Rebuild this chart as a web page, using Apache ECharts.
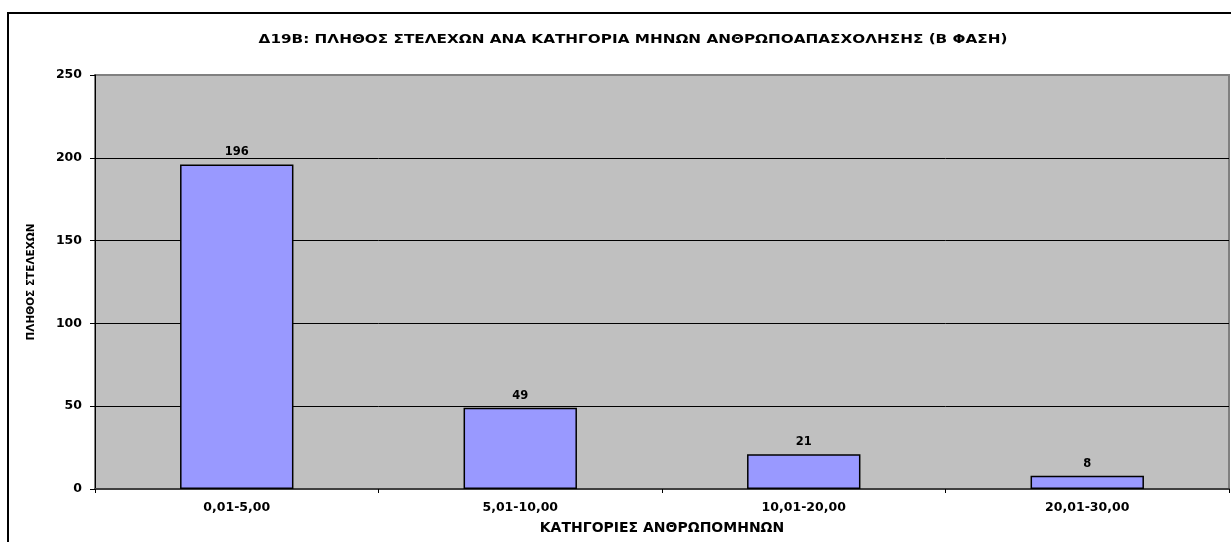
<!DOCTYPE html>
<html>
<head>
<meta charset="utf-8">
<script src="https://cdn.jsdelivr.net/npm/echarts@6/dist/echarts.min.js"></script>
<style>
html,body{margin:0;padding:0;background:#fff;}
#chart{width:1231px;height:542px;}
</style>
</head>
<body>
<div id="chart"></div>
<script>
const titleText = 'Δ19Β: ΠΛΗΘΟΣ ΣΤΕΛΕΧΩΝ ΑΝΑ ΚΑΤΗΓΟΡΙΑ ΜΗΝΩΝ ΑΝΘΡΩΠΟΑΠΑΣΧΟΛΗΣΗΣ (Β ΦΑΣΗ)';
const categories = ['0,01-5,00', '5,01-10,00', '10,01-20,00', '20,01-30,00'];
const values = [196, 49, 21, 8];
const yName = 'ΠΛΗΘΟΣ ΣΤΕΛΕΧΩΝ';
const xName = 'ΚΑΤΗΓΟΡΙΕΣ ΑΝΘΡΩΠΟΜΗΝΩΝ';

const font = '"DejaVu Sans", "Liberation Sans", Arial, sans-serif';
const chart = echarts.init(document.getElementById('chart'), null, {renderer: 'canvas'});
chart.setOption({
  animation: false,
  backgroundColor: '#ffffff',
  textStyle: {fontFamily: font},
  graphic: [{
    type: 'rect',
    shape: {x: 8, y: 13, width: 1400, height: 700},
    style: {fill: null, stroke: '#000', lineWidth: 2},
    silent: true,
    z: 100
  }, {
    type: 'text',
    x: 633,
    y: 40,
    scaleX: 1.27,
    silent: true,
    style: {
      text: titleText,
      x: 0, y: 0,
      align: 'center',
      verticalAlign: 'middle',
      font: 'bold 12px "DejaVu Sans", "Liberation Sans", Arial, sans-serif',
      fill: '#000'
    }
  }],
  grid: {
    left: 95, top: 75, right: 2, bottom: 53,
    show: true,
    backgroundColor: '#C0C0C0',
    borderColor: '#808080',
    borderWidth: 2
  },
  xAxis: {
    type: 'category',
    data: categories,
    name: xName,
    nameLocation: 'middle',
    nameGap: 32,
    nameTextStyle: {fontFamily: font, fontSize: 14, fontWeight: 'bold', color: '#000'},
    axisLine: {lineStyle: {color: '#404040', width: 2}},
    axisTick: {show: true, alignWithLabel: false, length: 4, lineStyle: {color: '#000'}},
    axisLabel: {fontFamily: font, fontSize: 12.5, fontWeight: 'bold', color: '#000', margin: 12}
  },
  yAxis: {
    type: 'value',
    min: 0, max: 250, interval: 50,
    name: yName,
    nameLocation: 'middle',
    nameGap: 58,
    nameRotate: 90,
    nameTextStyle: {fontFamily: font, fontSize: 10.5, fontWeight: 'bold', color: '#000'},
    axisLine: {show: true, lineStyle: {color: '#000', width: 1}},
    axisTick: {show: true, length: 5, lineStyle: {color: '#000'}},
    axisLabel: {fontFamily: font, fontSize: 12.5, fontWeight: 'bold', color: '#000', margin: 13},
    splitLine: {show: true, lineStyle: {color: ['#000', '#000', '#000', '#000', '#000', '#808080'], width: 1}}
  },
  series: [{
    type: 'bar',
    data: values,
    barWidth: '40%',
    itemStyle: {color: '#9999FF', borderColor: '#000', borderWidth: 1.5},
    label: {show: true, position: 'top', distance: 6, fontFamily: font, fontSize: 11.5, fontWeight: 'bold', color: '#000'}
  }]
});
</script>
</body>
</html>
